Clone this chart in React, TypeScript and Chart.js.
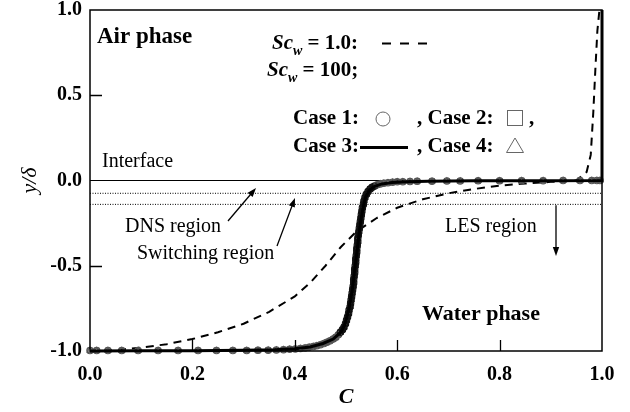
import { useEffect, useRef } from "react";
import { Chart, registerables } from "chart.js";

Chart.register(...registerables);

const SERIF = "'Liberation Serif', 'Times New Roman', serif";

// Axis ranges and tick spacing
const xRange = [0, 1];
const yRange = [-1, 1];
const xStep = 0.2;
const yStep = 0.5;
const xInnerTicks = [0.2, 0.4, 0.6, 0.8];
const yInnerTicks = [-0.5, 0.5];

// Reference levels: interface and the two region boundaries
const levelC = [0, 1];
const interfaceY = 0;
const dnsEdgeY = -0.075;
const switchEdgeY = -0.14;

// Sc_w = 1.0 profile
const sc1C = [0, 0.05, 0.1, 0.15, 0.2, 0.25, 0.3, 0.35, 0.4, 0.43, 0.46, 0.49, 0.52, 0.56, 0.6, 0.65, 0.7, 0.75, 0.8, 0.85, 0.9, 0.95, 0.97, 0.978, 0.983, 0.987, 0.991, 0.995];
const sc1Y = [-1, -0.995, -0.98, -0.96, -0.93, -0.89, -0.84, -0.77, -0.68, -0.6, -0.5, -0.39, -0.3, -0.22, -0.16, -0.11, -0.075, -0.05, -0.03, -0.018, -0.008, 0.0, 0.05, 0.15, 0.4, 0.65, 0.88, 1.0];

// Sc_w = 100, Case 3 profile
const case3C = [0, 0.1, 0.2, 0.3, 0.36, 0.4, 0.43, 0.455, 0.475, 0.49, 0.497, 0.502, 0.506, 0.509, 0.512, 0.514, 0.516, 0.518, 0.52, 0.522, 0.524, 0.526, 0.528, 0.531, 0.534, 0.538, 0.545, 0.555, 0.57, 0.59, 0.62, 0.66, 0.75, 0.9, 1.0, 1.0];
const case3Y = [-1, -0.999, -0.998, -0.996, -0.993, -0.987, -0.976, -0.956, -0.93, -0.89, -0.85, -0.8, -0.75, -0.7, -0.65, -0.6, -0.55, -0.5, -0.45, -0.4, -0.35, -0.3, -0.25, -0.2, -0.15, -0.1, -0.06, -0.035, -0.02, -0.012, -0.007, -0.004, -0.002, -0.001, 0, 1.0];

// Sc_w = 100, Cases 1, 2 and 4 (grid-point samples, coincident)
const caseC = [0, 0.013, 0.035, 0.062, 0.094, 0.133, 0.172, 0.211, 0.247, 0.279, 0.306, 0.328, 0.348, 0.364, 0.378, 0.39, 0.401, 0.411, 0.42, 0.428, 0.436, 0.443, 0.45, 0.457, 0.463, 0.469, 0.475, 0.48, 0.485, 0.489, 0.493, 0.496, 0.499, 0.501, 0.503, 0.505, 0.506, 0.508, 0.509, 0.51, 0.511, 0.512, 0.513, 0.514, 0.515, 0.515, 0.516, 0.517, 0.517, 0.518, 0.519, 0.519, 0.52, 0.521, 0.521, 0.522, 0.523, 0.523, 0.524, 0.525, 0.526, 0.527, 0.528, 0.529, 0.53, 0.531, 0.532, 0.534, 0.535, 0.537, 0.54, 0.543, 0.547, 0.551, 0.556, 0.561, 0.567, 0.574, 0.582, 0.591, 0.6, 0.611, 0.625, 0.639, 0.668, 0.697, 0.723, 0.758, 0.8, 0.843, 0.885, 0.924, 0.957, 0.98, 0.99, 0.996];
const caseY = [-0.997, -0.997, -0.997, -0.997, -0.997, -0.997, -0.997, -0.997, -0.997, -0.997, -0.997, -0.996, -0.995, -0.994, -0.992, -0.99, -0.988, -0.985, -0.982, -0.978, -0.974, -0.969, -0.963, -0.956, -0.948, -0.94, -0.93, -0.92, -0.905, -0.89, -0.875, -0.86, -0.84, -0.82, -0.8, -0.78, -0.76, -0.74, -0.72, -0.7, -0.68, -0.66, -0.64, -0.62, -0.6, -0.58, -0.56, -0.54, -0.52, -0.5, -0.48, -0.46, -0.44, -0.42, -0.4, -0.38, -0.36, -0.34, -0.32, -0.3, -0.28, -0.26, -0.24, -0.22, -0.2, -0.18, -0.16, -0.14, -0.12, -0.1, -0.08, -0.065, -0.05, -0.04, -0.032, -0.025, -0.02, -0.016, -0.013, -0.01, -0.008, -0.007, -0.006, -0.005, -0.004, -0.003, -0.003, -0.002, -0.002, -0.001, -0.001, 0, 0, 0, 0, 0];

const pts = (xs: number[], ys: number[]) => xs.map((x, i) => ({ x, y: ys[i] }));
const level = (y: number) => levelC.map((x) => ({ x, y }));

type Run = { text: string; font: string; dy?: number };

function drawRuns(ctx: CanvasRenderingContext2D, x: number, y: number, runs: Run[]) {
  let cx = x;
  for (const r of runs) {
    ctx.font = r.font;
    ctx.fillText(r.text, cx, y + (r.dy || 0));
    cx += ctx.measureText(r.text).width;
  }
}

function arrow(ctx: CanvasRenderingContext2D, x0: number, y0: number, x1: number, y1: number) {
  const a = Math.atan2(y1 - y0, x1 - x0);
  const len = 9;
  const hw = 3.2;
  ctx.beginPath();
  ctx.moveTo(x0, y0);
  ctx.lineTo(x1 - Math.cos(a) * len * 0.8, y1 - Math.sin(a) * len * 0.8);
  ctx.lineWidth = 1.3;
  ctx.stroke();
  ctx.beginPath();
  ctx.moveTo(x1, y1);
  ctx.lineTo(x1 - Math.cos(a) * len - Math.sin(a) * hw, y1 - Math.sin(a) * len + Math.cos(a) * hw);
  ctx.lineTo(x1 - Math.cos(a) * len + Math.sin(a) * hw, y1 - Math.sin(a) * len - Math.cos(a) * hw);
  ctx.closePath();
  ctx.fill();
}

const framePlugin = {
  id: "frameAndNotes",
  afterDraw(chart: any) {
    const { ctx, chartArea } = chart;
    const { left, right, top, bottom } = chartArea;
    const xs = chart.scales.x;
    const ys = chart.scales.y;
    ctx.save();
    ctx.strokeStyle = "#000";
    ctx.fillStyle = "#000";

    // plot frame
    ctx.lineWidth = 1.5;
    ctx.strokeRect(left, top, right - left, bottom - top);

    // inward tick marks
    ctx.lineWidth = 1.3;
    ctx.beginPath();
    for (const v of xInnerTicks) {
      const px = Math.round(xs.getPixelForValue(v)) + 0.5;
      ctx.moveTo(px, bottom);
      ctx.lineTo(px, bottom - 11);
    }
    for (const v of yInnerTicks) {
      const py = Math.round(ys.getPixelForValue(v)) + 0.5;
      ctx.moveTo(left, py);
      ctx.lineTo(left + 12, py);
    }
    ctx.stroke();

    ctx.textAlign = "left";
    ctx.textBaseline = "alphabetic";
    const B = (s: number) => `bold ${s}px ${SERIF}`;
    const BI = (s: number) => `italic bold ${s}px ${SERIF}`;
    const R = (s: number) => `${s}px ${SERIF}`;

    ctx.font = B(23);
    ctx.fillText("Air phase", 97, 43);
    ctx.font = B(22);
    ctx.fillText("Water phase", 422, 320);

    ctx.font = R(20);
    ctx.fillText("Interface", 102, 167);
    ctx.fillText("DNS region", 125, 232);
    ctx.fillText("Switching region", 137, 259);
    ctx.fillText("LES region", 445, 232);

    // legend block
    drawRuns(ctx, 272, 49, [
      { text: "Sc", font: BI(21) },
      { text: "w", font: BI(14), dy: 6 },
      { text: " = 1.0:", font: B(21) },
    ]);
    drawRuns(ctx, 267, 76, [
      { text: "Sc", font: BI(21) },
      { text: "w", font: BI(14), dy: 6 },
      { text: " = 100;", font: B(21) },
    ]);
    ctx.font = B(21);
    ctx.fillText("Case 1:", 293, 124);
    ctx.fillText(", Case 2:", 417, 124);
    ctx.fillText(",", 529, 124);
    ctx.fillText("Case 3:", 293, 152);
    ctx.fillText(", Case 4:", 417, 152);

    // legend samples
    ctx.lineWidth = 2;
    ctx.setLineDash([9, 9]);
    ctx.beginPath();
    ctx.moveTo(382, 43.5);
    ctx.lineTo(432, 43.5);
    ctx.stroke();
    ctx.setLineDash([]);
    ctx.lineWidth = 3;
    ctx.beginPath();
    ctx.moveTo(360, 147.5);
    ctx.lineTo(408, 147.5);
    ctx.stroke();

    ctx.strokeStyle = "#666";
    ctx.lineWidth = 1;
    ctx.beginPath();
    ctx.arc(383, 119, 7, 0, Math.PI * 2);
    ctx.stroke();
    ctx.strokeRect(507.5, 110.5, 15, 15);
    ctx.beginPath();
    ctx.moveTo(515, 138);
    ctx.lineTo(523.5, 152.5);
    ctx.lineTo(506.5, 152.5);
    ctx.closePath();
    ctx.stroke();

    // region arrows
    ctx.strokeStyle = "#000";
    arrow(ctx, 228, 221, 256, 188);
    arrow(ctx, 277, 246, 295, 198);
    arrow(ctx, 556, ys.getPixelForValue(switchEdgeY) + 1, 556, 256);

    ctx.restore();
  },
};

// outlines read darker where samples crowd together across the steep front
const markerEdge = (c: any) => {
  const y = c.raw ? c.raw.y : 0;
  return y > -0.9 && y < -0.03 ? "#111" : "#555";
};

export default function App() {
  const ref = useRef<HTMLCanvasElement | null>(null);

  useEffect(() => {
    document.body.style.margin = "0";
    const canvas = ref.current;
    if (!canvas) return;

    const markerBase = {
      type: "scatter" as const,
      showLine: false,
      pointRadius: 3.2,
      pointBorderWidth: 1.1,
      pointBorderColor: markerEdge,
      pointBackgroundColor: "rgba(0,0,0,0)",
      clip: false as any,
    };

    const chart = new Chart(canvas, {
      type: "scatter",
      data: {
        datasets: [
          {
            label: "Case 3",
            data: pts(case3C, case3Y),
            showLine: true,
            borderColor: "#000",
            borderWidth: 3,
            pointRadius: 0,
            clip: false as any,
          },
          { ...markerBase, label: "Case 1", data: pts(caseC, caseY), pointStyle: "circle" },
          { ...markerBase, label: "Case 2", data: pts(caseC, caseY), pointStyle: "rect" },
          { ...markerBase, label: "Case 4", data: pts(caseC, caseY), pointStyle: "triangle" },
          {
            label: "Sc_w = 1.0",
            data: pts(sc1C, sc1Y),
            showLine: true,
            borderColor: "#000",
            borderWidth: 2,
            borderDash: [8, 6],
            pointRadius: 0,
            clip: false as any,
          },
          {
            label: "Interface",
            data: level(interfaceY),
            showLine: true,
            borderColor: "#000",
            borderWidth: 1,
            pointRadius: 0,
          },
          {
            label: "DNS edge",
            data: level(dnsEdgeY),
            showLine: true,
            borderColor: "#000",
            borderWidth: 1,
            borderDash: [1, 1.5],
            pointRadius: 0,
          },
          {
            label: "Switching edge",
            data: level(switchEdgeY),
            showLine: true,
            borderColor: "#000",
            borderWidth: 1,
            borderDash: [1, 1.5],
            pointRadius: 0,
          },
        ],
      },
      options: {
        responsive: false,
        animation: false,
        devicePixelRatio: 1,
        events: [],
        layout: { padding: { top: 10, right: 28, left: 0, bottom: 0 } },
        plugins: { legend: { display: false }, tooltip: { enabled: false } },
        scales: {
          x: {
            type: "linear",
            min: xRange[0],
            max: xRange[1],
            grid: { display: false, drawTicks: false },
            border: { display: false },
            ticks: {
              stepSize: xStep,
              padding: 14,
              color: "#000",
              font: { family: SERIF, size: 20, weight: "bold", lineHeight: 1 },
              callback: (v: any) => Number(v).toFixed(1),
              maxRotation: 0,
            },
            title: {
              display: true,
              text: "C",
              color: "#000",
              padding: { top: 0, bottom: 1 },
              font: { family: SERIF, size: 22, weight: "bold", style: "italic" },
            },
            afterFit: (s: any) => {
              s.height = 61;
              s.paddingLeft = 0;
              s.paddingRight = 0;
            },
          },
          y: {
            type: "linear",
            min: yRange[0],
            max: yRange[1],
            grid: { display: false, drawTicks: false },
            border: { display: false },
            ticks: {
              stepSize: yStep,
              padding: 8,
              color: "#000",
              font: { family: SERIF, size: 20, weight: "bold", lineHeight: 1 },
              callback: (v: any) => Number(v).toFixed(1),
            },
            title: {
              display: true,
              text: "y/δ",
              color: "#000",
              padding: { top: 17, bottom: 0 },
              font: { family: SERIF, size: 22, style: "italic" },
            },
            afterFit: (s: any) => {
              s.width = 90;
              s.paddingTop = 0;
              s.paddingBottom = 0;
            },
          },
        },
      },
      plugins: [framePlugin],
    } as any);

    return () => chart.destroy();
  }, []);

  return <canvas ref={ref} width={630} height={412} style={{ display: "block" }} />;
}
